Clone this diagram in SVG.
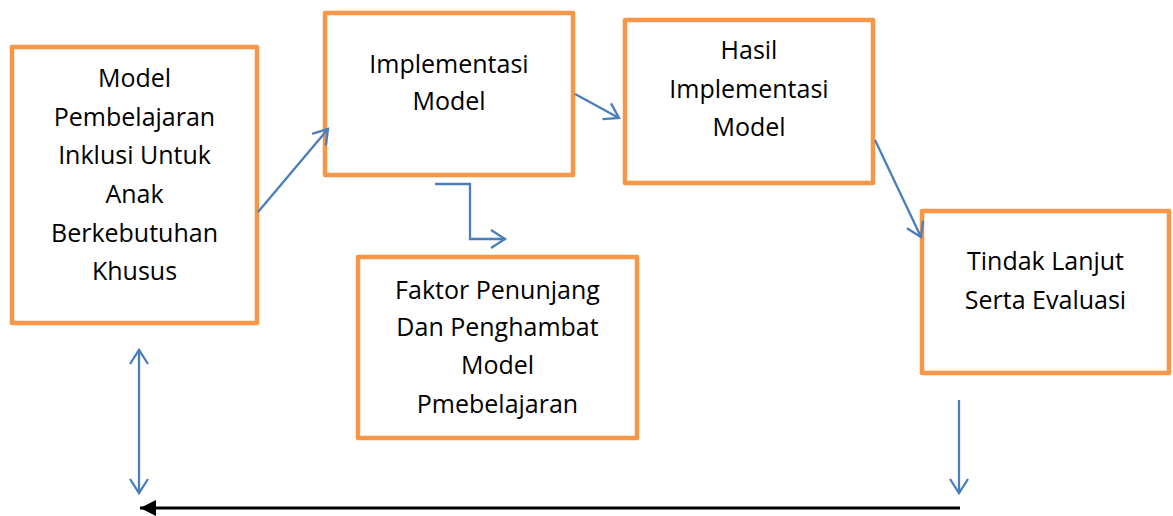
<svg xmlns="http://www.w3.org/2000/svg" width="1173" height="516" viewBox="0 0 1173 516">
<style>
.box{fill:#fff;stroke:#f79646;stroke-width:4.5;stroke-linejoin:round}
.lbl{font-family:"Open Sans","Liberation Sans",sans-serif;font-size:25px;fill:#000;text-anchor:middle}
.con{fill:none;stroke:#4a7ebb;stroke-width:2.3}
.blk{fill:none;stroke:#000;stroke-width:3}
</style>
<defs>
<marker id="open" markerUnits="userSpaceOnUse" viewBox="-16 -11 18 22" markerWidth="18" markerHeight="22" refX="0" refY="0" orient="auto-start-reverse" overflow="visible">
<path d="M-14,-9 L0,0 L-14,9" fill="none" stroke="#4a7ebb" stroke-width="2.3"/>
</marker>
<marker id="solid" markerUnits="userSpaceOnUse" viewBox="-16 -9 17 18" markerWidth="17" markerHeight="18" refX="0" refY="0" orient="auto" overflow="visible">
<path d="M-16,-8 L0,0 L-16,8 Z" fill="#000"/>
</marker>
</defs>
<g id="n1">
<rect class="box" x="12" y="47" width="245" height="276"/>
<text class="lbl"><tspan x="134.5" y="87">Model</tspan><tspan x="134.5" y="126">Pembelajaran</tspan><tspan x="134.5" y="164">Inklusi Untuk</tspan><tspan x="134.5" y="203">Anak</tspan><tspan x="134.5" y="242">Berkebutuhan</tspan><tspan x="134.5" y="280">Khusus</tspan></text>
</g>
<g id="n2">
<rect class="box" x="325" y="13" width="248" height="162"/>
<text class="lbl"><tspan x="449" y="73">Implementasi</tspan><tspan x="449" y="110">Model</tspan></text>
</g>
<g id="n3">
<rect class="box" x="625" y="20" width="248" height="163"/>
<text class="lbl"><tspan x="749" y="59">Hasil</tspan><tspan x="749" y="98">Implementasi</tspan><tspan x="749" y="136">Model</tspan></text>
</g>
<g id="n4">
<rect class="box" x="922" y="211" width="247" height="162"/>
<text class="lbl"><tspan x="1045.5" y="270">Tindak Lanjut</tspan><tspan x="1045.5" y="309">Serta Evaluasi</tspan></text>
</g>
<g id="n5">
<rect class="box" x="358" y="257" width="279" height="181"/>
<text class="lbl"><tspan x="497.5" y="299">Faktor Penunjang</tspan><tspan x="497.5" y="336">Dan Penghambat</tspan><tspan x="497.5" y="374">Model</tspan><tspan x="497.5" y="413">Pmebelajaran</tspan></text>
</g>
<g id="connectors">
<line class="con" x1="258" y1="212" x2="328" y2="129" marker-end="url(#open)"/>
<line class="con" x1="575" y1="94" x2="619" y2="118" marker-end="url(#open)"/>
<polyline class="con" points="435,184 470,184 470,239 505,239" marker-end="url(#open)"/>
<line class="con" x1="875" y1="140" x2="921" y2="237" marker-end="url(#open)"/>
<line class="con" x1="139" y1="350" x2="139" y2="493" marker-start="url(#open)" marker-end="url(#open)"/>
<line class="con" x1="959" y1="400" x2="959" y2="493" marker-end="url(#open)"/>
<line class="blk" x1="960" y1="508" x2="140" y2="508" marker-end="url(#solid)"/>
</g>
</svg>
